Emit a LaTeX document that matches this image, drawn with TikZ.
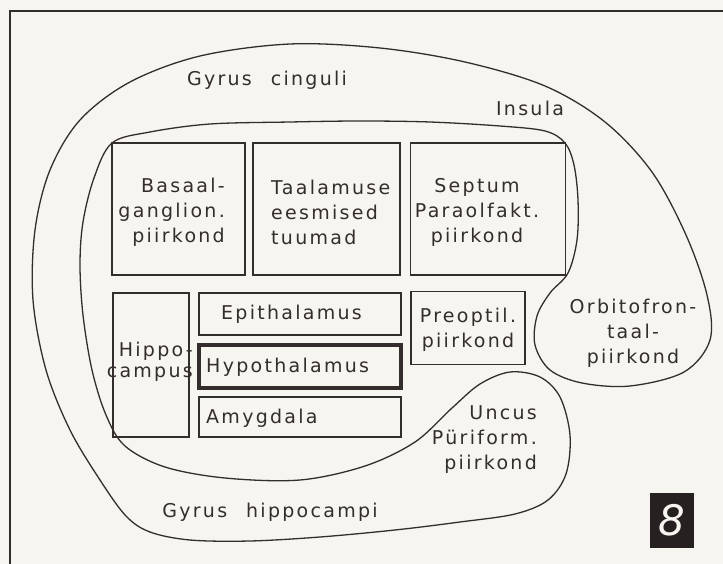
\documentclass[tikz,border=0pt]{standalone}
\usepackage{fontspec}
\setmainfont{DejaVu Sans}[LetterSpace=12]
\definecolor{paper}{RGB}{247,245,240}
\definecolor{ink}{RGB}{52,45,45}
\definecolor{badgeink}{RGB}{38,32,32}
\begin{document}
\begin{tikzpicture}[x=1pt,y=-1pt,
    box/.style={draw=ink, line width=1.6pt, inner sep=0pt},
    lbl/.style={text=ink, inner sep=0pt, font=\fontsize{19}{25}\selectfont},
    contour/.style={draw=ink, line width=1.3pt},
    badge/.style={fill=badgeink, text=paper, minimum width=44pt, minimum height=55pt, font=\fontsize{42}{42}\selectfont\itshape}]
    \fill [paper] (0,0) rectangle (723,564);
    \useasboundingbox (0,0) rectangle (723,564);
    \draw [draw=ink, line width=1.6pt] (723,11) -- (10,11) -- (10,564);
    % the ring of the limbic lobe, one closed line
    \draw [contour] plot [smooth cycle, tension=0.55] coordinates {
        (290,44) (380,48) (465,62) (545,86) (605,122) (652,172) (686,235) (707,295)
        (710,340) (684,372) (630,386) (582,383) (550,370) (535,345) (537,316) (550,293)
        (568,273) (577,240) (578,200) (574,165) (565,143) (545,131) (500,126) (430,122)
        (360,121) (290,122) (210,124) (150,132) (112,143) (94,178) (83,222) (80,265)
        (83,315) (92,370) (106,415) (125,446) (165,467) (225,478) (300,480) (365,466)
        (415,442) (452,408) (480,384) (510,372) (540,377) (560,397) (570,435) (566,474)
        (548,500) (515,514) (460,522) (395,530) (320,537) (250,541) (190,540) (150,532)
        (126,516) (100,480) (70,430) (46,370) (33,300) (35,230) (50,170) (80,120)
        (130,82) (200,56)};
    % upper row
    \node [box, minimum width=133pt, minimum height=132pt] (basaal) at (178.5,209) {};
    \node [box, minimum width=147pt, minimum height=132pt] (taalamus) at (326.5,209) {};
    \node [box, minimum width=155pt, minimum height=132pt] (septum) at (488,209) {};
    % lower row
    \node [box, minimum width=76pt, minimum height=144pt] (hippo) at (151,365) {};
    \node [box, minimum width=202pt, minimum height=42pt] (epithal) at (300,314) {};
    \node [box, line width=3.4pt, minimum width=202pt, minimum height=43pt] (hypothal) at (300,366.5) {};
    \node [box, minimum width=202pt, minimum height=40pt] (amygdala) at (300,417) {};
    \node [box, minimum width=114pt, minimum height=73pt] (preoptil) at (468,328) {};
    % texts
    \node [lbl] (cinguli) at (267,80) {Gyrus\quad cinguli};
    \node [lbl] (insula) at (530,108) {Insula};
    \node [lbl, align=right, anchor=east] (basaaltxt) at (225,212) {Basaal-\\ganglion.\\piirkond};
    \node [lbl, align=left, anchor=west] (taalamustxt) at (271,212) {Taalamuse\\eesmised\\tuumad};
    \node [lbl, align=center] (septumtxt) at (477,212) {Septum\\Paraolfakt.\\piirkond};
    \node [lbl, anchor=west] (epithaltxt) at (221,314) {Epithalamus};
    \node [lbl, anchor=west] (hypothaltxt) at (206,367) {Hypothalamus};
    \node [lbl, anchor=west] (amygdalatxt) at (206,418) {Amygdala};
    \node [lbl, align=right, anchor=east, font=\fontsize{19}{21}\selectfont] (hippotxt) at (193,362) {Hippo-\\campus};
    \node [lbl, align=center] (preoptiltxt) at (468,330) {Preoptil.\\piirkond};
    \node [lbl, align=center] (orbitotxt) at (633,333) {Orbitofron-\\taal-\\piirkond};
    \node [lbl, align=right, anchor=east] (uncustxt) at (537,440) {Uncus\\Püriform.\\piirkond};
    \node [lbl] (hippocampi) at (270,512) {Gyrus\quad hippocampi};
    \node [badge] (fignum) at (672,520) {8};
\end{tikzpicture}
\end{document}
